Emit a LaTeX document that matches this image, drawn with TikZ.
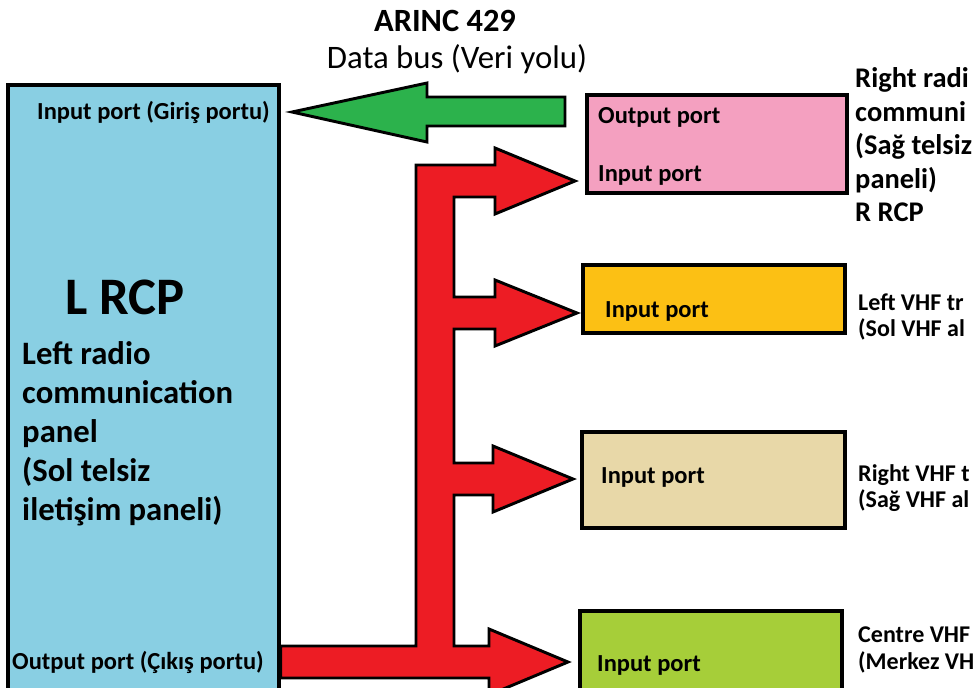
\documentclass[tikz,border=0pt]{standalone}
\usepackage{fontspec}
\setmainfont{Carlito}
\usetikzlibrary{positioning, fit, calc}
\definecolor{lrcpBlue}{HTML}{89CFE3}
\definecolor{busGreen}{HTML}{2CB24C}
\definecolor{busRed}{HTML}{ED1C24}
\definecolor{rrcpPink}{HTML}{F4A0C0}
\definecolor{vhfOrange}{HTML}{FCC014}
\definecolor{vhfTan}{HTML}{E8D8A8}
\definecolor{vhfLime}{HTML}{A6CE39}

\tikzset{
  panel/.style={draw=black, line width=2.7pt, inner sep=0pt},
  porttxt/.style={anchor=west, inner sep=0pt, font=\fontsize{20.9}{25}\selectfont\bfseries},
  sidetxt/.style={anchor=west, inner sep=0pt, align=left, font=\fontsize{24.3}{28.6}\selectfont\bfseries},
  vhftxt/.style={anchor=west, inner sep=0pt, align=left, font=\fontsize{20.5}{22.4}\selectfont\bfseries},
  blockarrow/.style={draw=black, line width=2.5pt, line join=miter},
}

\begin{document}
\begin{tikzpicture}[x=0.03cm, y=-0.03cm]
  \useasboundingbox (0,0) rectangle (975,687);
  \clip (0,0) rectangle (975,687);

  % title of the bus
  \node[inner sep=0pt, font=\fontsize{27.7}{32}\selectfont\bfseries] (arinc) at (445,21) {ARINC 429};
  \node[inner sep=0pt, font=\fontsize{28}{32}\selectfont] (databus) at (457,59) {Data bus (Veri yolu)};

  % panels and receivers
  \node[panel, fill=lrcpBlue, fit={(8,85) (279,730)}] (lrcp) {};
  \node[panel, fill=rrcpPink, fit={(587,95) (847,193)}] (rrcp) {};
  \node[panel, fill=vhfOrange, fit={(583,265) (845,333)}] (lvhf) {};
  \node[panel, fill=vhfTan, fit={(582,432) (845,528)}] (rvhf) {};
  \node[panel, fill=vhfLime, fit={(580,611) (842,730)}] (cvhf) {};

  % left panel texts
  \node[porttxt] (lin) at (37,112) {Input port (Giriş portu)};
  \node[porttxt] (lout) at (12,662) {Output port (Çıkış portu)};
  \node[anchor=west, inner sep=0pt, font=\fontsize{45}{52}\selectfont\bfseries] (lname) at (65,297) {L RCP};
  \node[anchor=west, inner sep=0pt, align=left, font=\fontsize{27.9}{33.3}\selectfont\bfseries] (ldesc) at (22,434)
    {Left radio\\communication\\panel\\(Sol telsiz\\iletişim paneli)};

  % ports of the receivers
  \node[porttxt] (rout) at (598,117) {Output port};
  \node[porttxt] (rin) at (598,175) {Input port};
  \node[porttxt] (lvhfin) at (605,311) {Input port};
  \node[porttxt] (rvhfin) at (601,477) {Input port};
  \node[porttxt] (cvhfin) at (597,665) {Input port};

  % names on the right, cut by the edge as printed
  \node[sidetxt] (rname) at (855,145) {Right radi\\communi\\(Sağ telsiz\\paneli)\\R RCP};
  \node[vhftxt] (lvhfname) at (858,317) {Left VHF tr\\(Sol VHF al};
  \node[vhftxt] (rvhfname) at (858,488) {Right VHF t\\(Sağ VHF al};
  \node[vhftxt] (cvhfname) at (858,650) {Centre VHF\\(Merkez VH};

  % R RCP output -> L RCP input
  \draw[blockarrow, fill=busGreen] (565,97) -- (427,97) -- (427,83) -- (292,112)
    -- (427,142) -- (427,126) -- (565,126) -- cycle;

  % L RCP output -> all inputs
  \draw[blockarrow, fill=busRed] (lrcp.east |- 0,646) -- (416,646) -- (416,165)
    -- (495,165) -- (495,148) -- (575,181) -- (495,214) -- (495,197)
    -- (454,197) -- (454,297) -- (495,297) -- (495,280) -- (577,313)
    -- (495,346) -- (495,329) -- (454,329) -- (454,463) -- (493,463)
    -- (493,446) -- (573,479) -- (493,512) -- (493,495) -- (454,495)
    -- (454,646) -- (489,646) -- (489,629) -- (568,662) -- (489,695)
    -- (489,678) -- (lrcp.east |- 0,678) -- cycle;
\end{tikzpicture}
\end{document}
